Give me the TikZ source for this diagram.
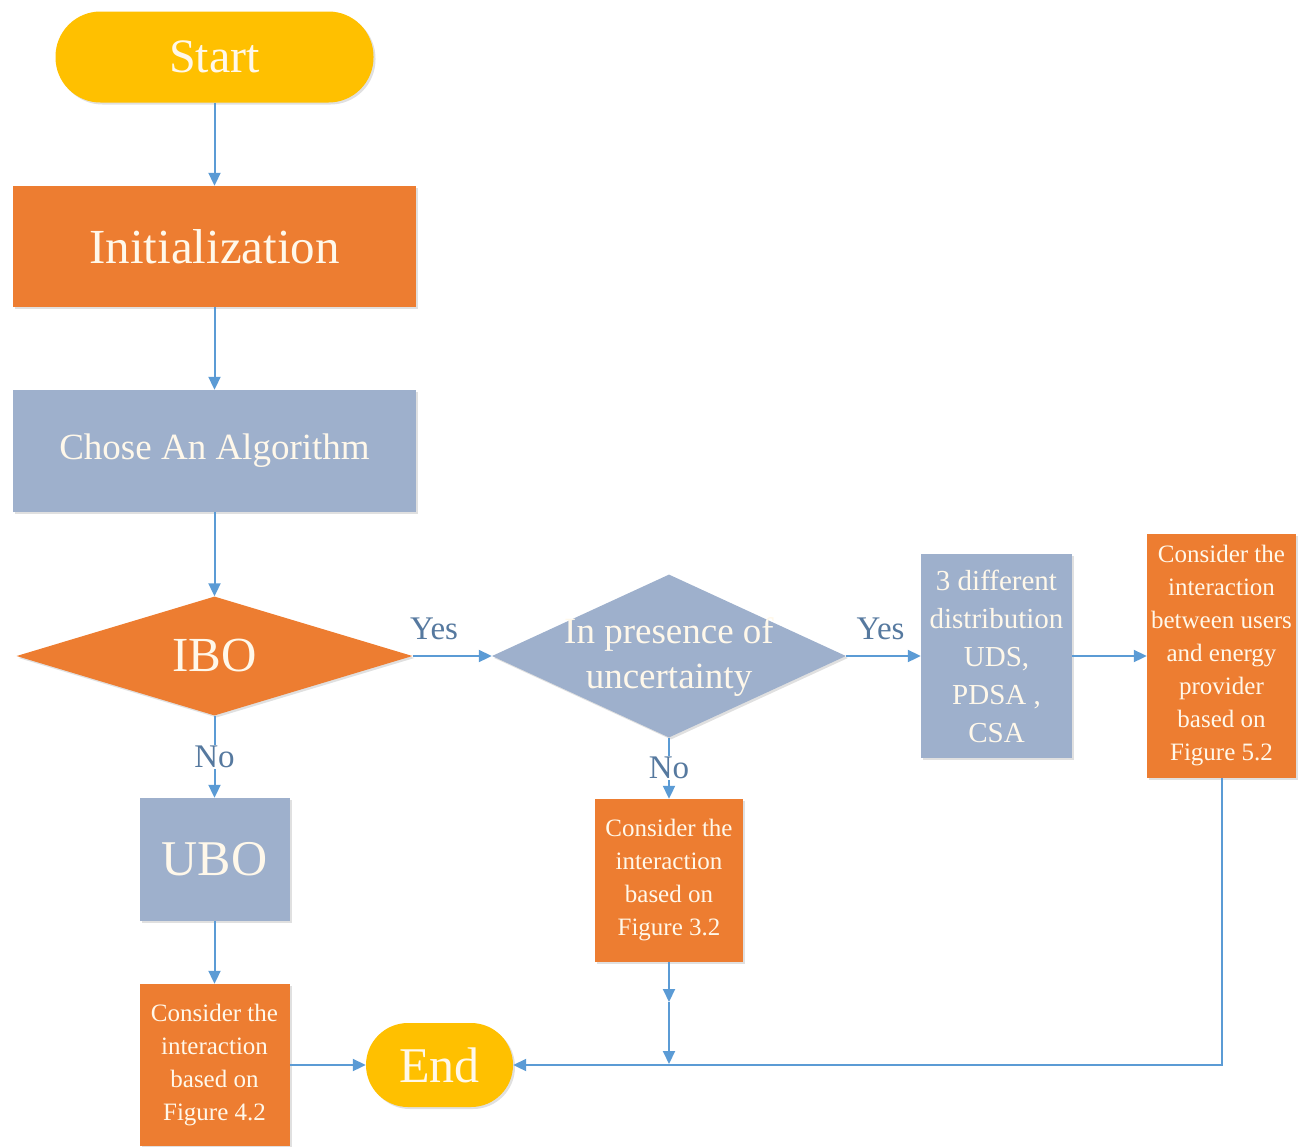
\documentclass[tikz,border=0pt]{standalone}
\usepackage{fontspec}
\setmainfont{Liberation Serif}
\usetikzlibrary{arrows.meta,shapes.geometric,shadows}
\definecolor{orng}{HTML}{ED7D31}
\definecolor{slate}{HTML}{9EB0CC}
\definecolor{gold}{HTML}{FFC000}
\definecolor{wire}{HTML}{5B9BD5}
\definecolor{cream}{HTML}{FFF8EA}
\definecolor{labc}{HTML}{56799F}

\begin{document}
\begin{tikzpicture}[x=1pt,y=-1pt,
  softshadow/.style={drop shadow={shadow xshift=2pt,shadow yshift=-2pt,opacity=.12,fill=black}},
  blockbox/.style={rectangle,inner sep=0pt,align=center,text=cream,softshadow},
  orangebox/.style={blockbox,fill=orng},
  slatebox/.style={blockbox,fill=slate},
  pill/.style={rectangle,inner sep=0pt,fill=gold,text=cream,softshadow},
  decision/.style={diamond,inner sep=0pt,softshadow},
  inner/.style={align=center,text=cream,inner sep=0pt},
  arr/.style={draw=wire,line width=2pt,-{Triangle[length=13pt,width=12pt]}},
  lab/.style={text=labc,font=\fontsize{33}{38}\selectfont,inner sep=1pt},
  small/.style={font=\fontsize{25}{33}\selectfont},
]
\useasboundingbox (0,0) rectangle (1309,1146);

% main column
\node[pill,minimum width=318pt,minimum height=91pt,rounded corners=45pt,
      font=\fontsize{48}{56}\selectfont] (start) at (214.5,57) {Start};
\node[orangebox,minimum width=403pt,minimum height=121pt,
      font=\fontsize{49}{56}\selectfont] (init) at (214.5,246.5) {Initialization};
\node[slatebox,minimum width=403pt,minimum height=122pt,
      font=\fontsize{37}{44}\selectfont] (algo) at (214.5,451) {Chose An Algorithm};

% decisions
\node[decision,fill=orng,minimum width=396pt,minimum height=119pt] (ibo) at (214.5,656) {};
\node[inner,font=\fontsize{49}{56}\selectfont] (ibo-t) at (ibo) {IBO};
\node[decision,fill=slate,minimum width=354pt,minimum height=163pt] (unc) at (669,656) {};
\node[inner,font=\fontsize{37}{45}\selectfont] (unc-t) at (669,657) {In presence of\\uncertainty};

% uncertainty branch
\node[slatebox,minimum width=151pt,minimum height=204pt,
      font=\fontsize{29}{38}\selectfont] (dist) at (996.5,656)
      {3 different\\distribution\\UDS,\\PDSA ,\\CSA};
\node[orangebox,small,minimum width=149pt,minimum height=244pt] (c52) at (1221.5,656)
      {Consider the\\interaction\\between users\\and energy\\provider\\based on\\Figure 5.2};
\node[orangebox,small,minimum width=148pt,minimum height=163pt] (c32) at (669,880.5)
      {Consider the\\interaction\\based on\\Figure 3.2};

% UBO branch
\node[slatebox,minimum width=150pt,minimum height=123pt,
      font=\fontsize{50}{56}\selectfont] (ubo) at (214.5,859.5) {UBO};
\node[orangebox,small,minimum width=150pt,minimum height=162pt] (c42) at (214.5,1065)
      {Consider the\\interaction\\based on\\Figure 4.2};

\node[pill,minimum width=147pt,minimum height=84pt,rounded corners=42pt,
      font=\fontsize{50}{56}\selectfont] (end) at (439.5,1065) {End};

\coordinate (m1) at (669,1002);
\coordinate (m2) at (669,1064);

% connectors
\draw[arr] (start) -- (init);
\draw[arr] (init) -- (algo);
\draw[arr] (algo) -- (ibo.north);
\draw[arr] (ibo.east) -- node[lab,pos=.27,yshift=27pt] (yes1) {Yes} (unc.west);
\draw[arr] (unc.east) -- node[lab,pos=.46,yshift=27pt] (yes2) {Yes} (dist.west);
\draw[arr] (dist.east) -- (c52.west);
\draw[arr] (ibo.south) -- node[lab,pos=.5,fill=white] (no1) {No} (ubo.north);
\draw[arr] (unc.south) -- node[lab,pos=.5,fill=white] (no2) {No} (c32.north);
\draw[arr] (ubo) -- (c42);
\draw[arr] (c42.east) -- (end.west);
\draw[arr] (c32.south) -- (m1);
\draw[arr] (m1) -- (m2);
\draw[arr] (c52.south) |- (end.east);
\end{tikzpicture}
\end{document}
